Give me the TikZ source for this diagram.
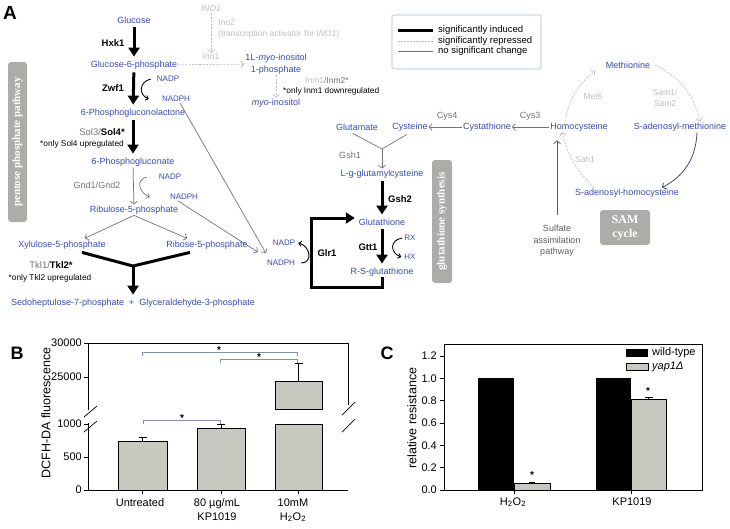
\documentclass[tikz,border=0pt]{standalone}
\usepackage{fontspec}
\setmainfont{Liberation Sans}
\newfontfamily\boxfont{Liberation Serif}
\usetikzlibrary{arrows.meta}
\definecolor{metab}{RGB}{55,75,175}
\definecolor{enzgrey}{RGB}{115,115,115}
\definecolor{enzlight}{RGB}{190,190,190}
\definecolor{boxgrey}{RGB}{172,172,168}
\definecolor{bargrey}{RGB}{200,200,192}
\definecolor{legblue}{RGB}{165,185,225}
\definecolor{sigline}{RGB}{125,145,170}
\definecolor{samline}{RGB}{70,75,110}
\newcommand{\pfont}[2]{\fontsize{#1}{#2}\selectfont}
\tikzset{
  met/.style={text=metab, font=\pfont{9}{11}, inner sep=1pt},
  cofac/.style={text=metab, font=\pfont{8}{10}, inner sep=1pt},
  enz/.style={font=\bfseries\pfont{9.5}{11}, inner sep=1pt},
  enzg/.style={text=enzgrey, font=\pfont{9}{11}, inner sep=1pt},
  enzl/.style={text=enzlight, font=\pfont{8.5}{11}, inner sep=1pt},
  note/.style={font=\pfont{8.3}{10}, inner sep=1pt},
  leg/.style={anchor=west, font=\pfont{9.5}{11}, inner sep=1pt},
  induced/.style={line width=3pt, -{Triangle[length=9pt,width=11pt]}, shorten <=2pt, shorten >=3pt},
  repressed/.style={enzlight, dash pattern=on 2pt off 1.5pt, line width=0.7pt, -{Straight Barb[length=3pt,width=7pt]}},
  nochange/.style={enzgrey, line width=0.7pt, -{Straight Barb[length=3pt,width=7pt]}},
  cofarrow/.style={line width=0.9pt, -{Straight Barb[length=2.5pt,width=5pt]}},
  greybox/.style={fill=boxgrey, rounded corners=3pt, inner sep=0pt, text=white, font=\boxfont\bfseries\pfont{11}{13}},
  axlabel/.style={font=\pfont{11}{14}, inner sep=1pt},
  barbox/.style={draw=black, fill=bargrey, line width=0.7pt}
}
\begin{document}
\begin{tikzpicture}[x=1pt,y=-1pt]
\useasboundingbox (0,0) rectangle (730,528);
\node[font=\bfseries\pfont{19}{22}] (labA) at (10,13) {A};

% pentose phosphate pathway
\node[greybox, rotate=90, minimum width=160pt, minimum height=19pt] (ppbox) at (17.5,142) {pentose phosphate pathway};
\node[met] (glc) at (134,20) {Glucose};
\node[met] (g6p) at (134,65) {Glucose-6-phosphate};
\node[met] (pgl) at (133,113) {6-Phosphogluconolactone};
\node[met] (pg) at (133,162) {6-Phosphogluconate};
\node[met] (ru5p) at (134,210) {Ribulose-5-phosphate};
\node[met] (xu5p) at (62,245) {Xylulose-5-phosphate};
\node[met] (r5p) at (207,245) {Ribose-5-phosphate};
\node[met] (sed) at (133,303) {Sedoheptulose-7-phosphate ~+~ Glyceraldehyde-3-phosphate};
\draw[induced] (glc) -- (g6p);
\node[enz] (hxk1) at (113,43) {Hxk1};
\draw[induced] (g6p) -- (pgl);
\node[enz] (zwf1) at (113,88) {Zwf1};
\node[cofac] (nadpA) at (168,79) {NADP};
\node[cofac] (nadphA) at (176,99) {NADPH};
\draw[cofarrow] ([xshift=-5pt]nadpA.west) .. controls +(-12,3) and +(-10,-4) .. ([xshift=-12pt]nadphA.west);
\draw[induced] (pgl) -- (pg);
\node[font=\pfont{9.5}{11}, inner sep=1pt] (sol) at (102,132) {\textcolor{enzgrey}{Sol3/}\textbf{Sol4*}};
\node[note] (solnote) at (82,144) {*only Sol4 upregulated};
\draw[nochange] (pg) -- (ru5p);
\node[enzg] (gnd) at (97,185) {Gnd1/Gnd2};
\node[cofac] (nadpB) at (170,177) {NADP};
\node[cofac] (nadphB) at (184,197) {NADPH};
\draw[cofarrow, enzgrey, line width=0.7pt] ([xshift=-11pt]nadpB.west) .. controls +(-12,3) and +(-10,-4) .. ([xshift=-19pt]nadphB.west);
\draw[nochange, shorten >=3pt] (ru5p.south) -- ([xshift=20pt]xu5p.north);
\draw[nochange, shorten >=3pt] (ru5p.south) -- ([xshift=-17pt]r5p.north);
\coordinate (tklj) at (133,266);
\draw[line width=3pt] ([xshift=20pt,yshift=-2pt]xu5p.south) -- (tklj) -- ([xshift=-17pt,yshift=-2pt]r5p.south);
\draw[induced, shorten <=0pt] (tklj) -- (sed);
\node[font=\pfont{9.5}{11}, inner sep=1pt] (tkl) at (51,265) {\textcolor{enzgrey}{Tkl1/}\textbf{Tkl2*}};
\node[note] (tklnote) at (50,278) {*only Tkl2 upregulated};

% inositol branch
\node[enzl, font=\pfont{8.5}{10}\itshape] (ino1g) at (211,9) {INO1};
\node[enzl] (ino1) at (211,57) {Ino1};
\node[enzl, anchor=west, align=left] (ino2) at (217,28.5) {Ino2\\(transcription activator for \textit{INO1})};
\draw[repressed] (ino1g) -- (ino1);
\node[met, align=center, font=\pfont{9}{12}] (mip) at (276,64) {1L-\textit{myo}-inositol\\1-phosphate};
\draw[repressed] (g6p) -- (mip);
\node[met] (myo) at (276,103) {\textit{myo}-inositol};
\draw[repressed] (mip) -- (myo);
\node[font=\pfont{8.5}{10}, anchor=west, inner sep=1pt] (inm) at (304,80) {\textcolor{enzlight}{Inm1}\textcolor{enzgrey}{/Inm2*}};
\node[note, anchor=west] (inmnote) at (282,91) {*only Inm1 downregulated};

% legend
\draw[legblue, rounded corners=2pt, line width=0.6pt] (392,15) rectangle (541,69);
\draw[line width=3pt] (398,30) -- (433,30);
\draw[enzlight, dash pattern=on 2pt off 1pt, line width=0.6pt] (398,41) -- (433,41);
\draw[enzgrey, line width=0.7pt] (398,51) -- (433,51);
\node[leg] (legind) at (437,30) {significantly induced};
\node[leg] (legrep) at (437,41) {significantly repressed};
\node[leg] (legno) at (437,51) {no significant change};

% glutathione synthesis
\node[greybox, rotate=90, minimum width=123pt, minimum height=20pt] (gsbox) at (442,221.5) {glutathione synthesis};
\node[met] (glu) at (357,127) {Glutamate};
\node[met] (cys) at (410,127) {Cysteine};
\node[met] (cysta) at (487,127) {Cystathione};
\node[met] (hcy) at (579,127) {Homocysteine};
\node[met] (gglc) at (382,174) {L-g-glutamylcysteine};
\node[met] (gsh) at (382,222) {Glutathione};
\node[met] (rsg) at (382,272) {R-S-glutathione};
\draw[nochange] (cysta) -- (cys);
\node[enzg] (cys4) at (447,116) {Cys4};
\draw[nochange] (hcy) -- (cysta);
\node[enzg] (cys3) at (530,116) {Cys3};
\coordinate (gshj) at (382,149);
\draw[enzgrey, line width=0.7pt] ([xshift=-4pt,yshift=-2pt]glu.south) -- (gshj) -- ([xshift=-3pt,yshift=-2pt]cys.south);
\draw[nochange] (gshj) -- (gglc);
\node[enzg] (gsh1) at (350,155) {Gsh1};
\draw[induced] (gglc) -- (gsh);
\node[enz] (gsh2) at (400,199) {Gsh2};
\draw[induced] (gsh) -- (rsg);
\node[enz] (gtt1) at (368,247) {Gtt1};
\node[cofac] (rx) at (410,238) {RX};
\node[cofac] (hx) at (410,257) {HX};
\draw[cofarrow] ([xshift=-1pt]rx.west) .. controls +(-13,2) and +(-11,-4) .. ([xshift=-2pt]hx.west);
\draw[line width=3pt, -{Triangle[length=9pt,width=11pt]}, shorten >=3pt] (rsg.south) |- (311,287) |- ([yshift=4pt]gsh.west);
\node[enz] (glr1) at (327,253) {Glr1};
\node[cofac] (nadpC) at (284,243) {NADP};
\node[cofac] (nadphC) at (281,263) {NADPH};
\draw[cofarrow] ([xshift=5pt]nadphC.east) .. controls +(12,0) and +(12,3) .. ([xshift=2pt]nadpC.east);
\draw[nochange] ([xshift=4pt]nadphA.south) -- ([shift={(0pt,6pt)}]nadphC.north west);
\draw[nochange] ([xshift=-6pt]nadphB.south) -- ([shift={(-8pt,7pt)}]nadphC.north west);

% SAM cycle
\node[met] (meth) at (628,65) {Methionine};
\node[met] (sam) at (680,127) {S-adenosyl-methionine};
\node[met] (sah) at (627,193) {S-adenosyl-homocysteine};
\draw[repressed] ([xshift=-14pt]hcy.north) to[bend left=20] ([shift={(-10pt,-6pt)}]meth.west);
\draw[repressed] ([xshift=4pt]meth.east) to[bend left=25] ([xshift=20pt]sam.north);
\draw[samline, line width=0.8pt, -{Straight Barb[length=3pt,width=7pt]}] ([xshift=17pt]sam.south) to[bend left=30] ([xshift=35pt]sah.north);
\draw[repressed] ([xshift=-33pt]sah.north) to[bend left=15] ([xshift=-17pt]hcy.south);
\node[enzl] (met6) at (593,97) {Met6};
\node[enzl, align=center] (sam12) at (665,97.5) {Sam1/\\Sam2};
\node[enzl] (sah1) at (585,159) {Sah1};
\node[font=\pfont{9}{11.5}, text=enzgrey!80!black, align=center, inner sep=1pt] (sulf) at (557,241) {Sulfate\\assimilation\\pathway};
\draw[nochange, enzgrey!80!black, shorten >=8pt] ([yshift=9pt]sulf.north) -- ([xshift=-22pt]hcy.south);
\node[greybox, minimum width=50pt, minimum height=35pt, align=center, font=\boxfont\bfseries\pfont{12}{14}] (sambox) at (625,227.5) {SAM\\cycle};

% panel B
\node[font=\bfseries\pfont{18}{20}] (labB) at (17,353) {B};
\draw[line width=0.8pt] (88,410) -- (88,343) -- (348,343) -- (348,405);
\draw[line width=0.8pt] (88,423) -- (88,490) -- (348,490);
\draw[line width=0.7pt] (84,417) -- (97,406) (84,432) -- (97,421);
\draw[line width=0.7pt] (342,415) -- (355,402) (342,432) -- (355,419);
\foreach \v/\y in {30000/343, 25000/377, 1000/424, 500/457, 0/490} {
  \draw[line width=0.7pt] (84,\y) -- (88,\y);
  \node[axlabel, anchor=east] at (83,\y) {\v};
}
\foreach \x in {142.5,221,298.5} \draw[line width=0.7pt] (\x,490) -- (\x,494);
\draw[barbox] (118,490) rectangle (167,441);
\draw[barbox] (197,490) rectangle (245,428);
\draw[barbox] (275,490) rectangle (322,424);
\draw[barbox] (275,409) rectangle (322,381);
\draw[line width=0.7pt] (142.5,441) -- (142.5,437) (138.5,437) -- (146.5,437);
\draw[line width=0.7pt] (221,428) -- (221,424) (217,424) -- (225,424);
\draw[line width=0.7pt] (298.5,381) -- (298.5,363) (294.5,363) -- (302.5,363);
\draw[sigline, line width=0.6pt] (142,356) -- (142,352) -- (297,352) -- (297,356);
\draw[sigline, line width=0.6pt] (220,363) -- (220,359) -- (297,359) -- (297,363);
\draw[sigline, line width=0.6pt] (143,424) -- (143,420) -- (220,420) -- (220,424);
\node[font=\bfseries\pfont{10}{10}, inner sep=0pt] at (219,350) {*};
\node[font=\bfseries\pfont{10}{10}, inner sep=0pt] at (259,357) {*};
\node[font=\bfseries\pfont{10}{10}, inner sep=0pt] at (182,418) {*};
\node[axlabel] (untr) at (140,503) {Untreated};
\node[axlabel, align=center] (kp) at (217,510) {80 µg/mL\\KP1019};
\node[axlabel, align=center] (hoo) at (293,510) {10mM\\H\textsubscript{2}O\textsubscript{2}};
\node[rotate=90, font=\pfont{12.5}{14}] (ylabB) at (46,413) {DCFH-DA fluorescence};

% panel C
\node[font=\bfseries\pfont{18}{20}] (labC) at (387,353) {C};
\draw[line width=0.8pt] (444,344) rectangle (702,490);
\foreach \v in {0.0,0.2,0.4,0.6,0.8,1.0,1.2} {
  \draw[line width=0.7pt] (440,{490-\v*111.7}) -- (444,{490-\v*111.7});
  \node[axlabel, anchor=east] at (438,{490-\v*111.7}) {\v};
}
\foreach \x in {514,631} \draw[line width=0.7pt] (\x,490) -- (\x,494);
\fill (478,490) rectangle (514,378.3);
\draw[barbox] (514,490) rectangle (550,483.3);
\fill (596,490) rectangle (631,378.3);
\draw[barbox] (631,490) rectangle (666,399.5);
\draw[line width=0.7pt] (532,483.3) -- (532,482) (529,482) -- (535,482);
\draw[line width=0.7pt] (648.5,399.5) -- (648.5,397) (644.5,397) -- (652.5,397);
\node[font=\bfseries\pfont{10}{10}, inner sep=0pt] at (532,475) {*};
\node[font=\bfseries\pfont{10}{10}, inner sep=0pt] at (648,391) {*};
\fill (626,349) rectangle (648,356.5);
\node[axlabel, anchor=west] (legwt) at (651,353) {wild-type};
\draw[barbox, line width=0.5pt] (626,363.5) rectangle (648,370);
\node[axlabel, anchor=west] (legyap) at (651,367) {\textit{yap1Δ}};
\node[axlabel] (xhoo) at (513,502) {H\textsubscript{2}O\textsubscript{2}};
\node[axlabel] (xkp) at (632,502) {KP1019};
\node[rotate=90, font=\pfont{12.5}{14}] (ylabC) at (412,418) {relative resistance};
\end{tikzpicture}
\end{document}
